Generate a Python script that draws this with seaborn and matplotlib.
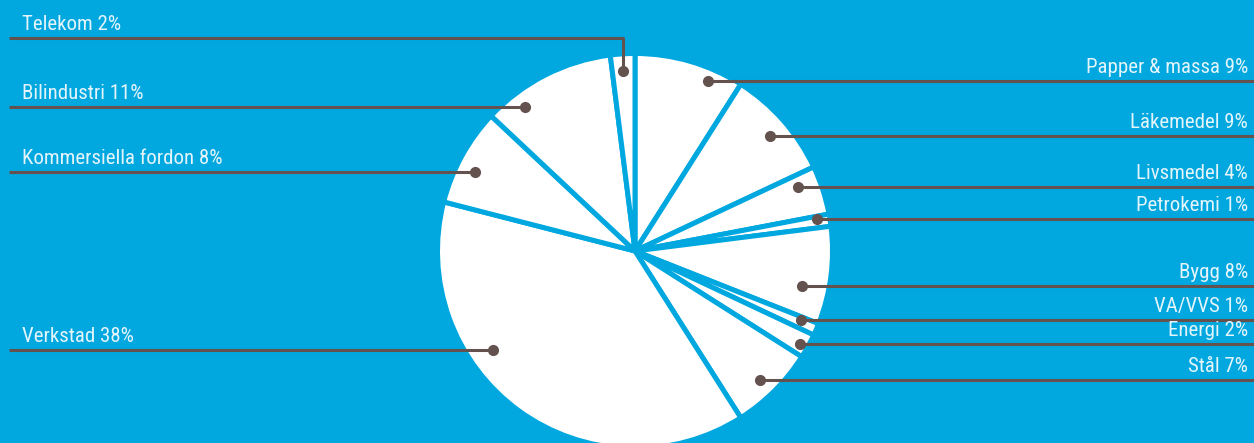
import numpy as np
import matplotlib
matplotlib.use("Agg")
import matplotlib.pyplot as plt
import seaborn as sns

# Industry shares (%), clockwise from twelve o'clock
sectors = ["Papper & massa", "Läkemedel", "Livsmedel", "Petrokemi", "Bygg",
           "VA/VVS", "Energi", "Stål", "Verkstad", "Kommersiella fordon",
           "Bilindustri", "Telekom"]
shares = [9, 9, 4, 1, 8, 1, 2, 7, 38, 8, 11, 2]

# Marker placement inside each wedge: fraction along the wedge (clockwise)
# and fraction of the radius
marker_frac = [0.72, 0.53, 0.27, 0.25, 0.66, 0.30, 0.58, 0.54, 0.64, 0.41, 0.24, 0.47]
marker_rad = [0.95, 0.91, 0.90, 0.95, 0.875, 0.92, 0.97, 0.92, 0.89, 0.915, 0.93, 0.925]
label_side = ["right"] * 8 + ["left"] * 4

BG = "#00A8DF"
LINE = "#64524f"
TEXT = "#e4f4fb"

sns.set_theme(style="white")
plt.rcParams["font.family"] = ["Roboto Condensed", "Liberation Sans Narrow",
                               "Roboto", "DejaVu Sans"]

W, H = 1254, 443
fig = plt.figure(figsize=(W / 100, H / 100), dpi=100, facecolor=BG)
ax = fig.add_axes([0, 0, 1, 1])
ax.set_facecolor(BG)

cx, cy, R = 635, 192, 195
edge_lw = 3.6
ax.pie(shares, center=(cx, cy), radius=R + 2.5, startangle=90,
       counterclock=False, colors=["white"] * len(shares),
       wedgeprops=dict(edgecolor=BG, linewidth=edge_lw), frame=True)

cum = np.concatenate([[0], np.cumsum(shares)])
fs = 15
for i, name in enumerate(sectors):
    a0 = 90 - 360 * cum[i] / 100
    a1 = 90 - 360 * cum[i + 1] / 100
    ang = np.deg2rad(a0 - marker_frac[i] * (a0 - a1))
    dx = cx + marker_rad[i] * R * np.cos(ang)
    dy = cy + marker_rad[i] * R * np.sin(ang)
    label = f"{name} {shares[i]}%"
    if label_side[i] == "right":
        ax.plot([dx, W], [dy, dy], color=LINE, lw=2.2, solid_capstyle="butt", zorder=3)
        ax.text(W - 6, dy + 8, label, ha="right", va="baseline",
                color=TEXT, fontsize=fs, zorder=4)
    else:
        ly = dy
        if name == "Telekom":
            ly = H - 38
            ax.plot([dx, dx], [dy, ly], color=LINE, lw=2.2, zorder=3)
        ax.plot([9, dx], [ly, ly], color=LINE, lw=2.2, solid_capstyle="butt", zorder=3)
        ax.text(22, ly + 8, label, ha="left", va="baseline",
                color=TEXT, fontsize=fs, zorder=4)
    ax.plot(dx, dy, "o", color=LINE, markersize=7, zorder=5)

ax.set_xlim(0, W)
ax.set_ylim(0, H)
ax.set_aspect("equal")
ax.axis("off")

fig.savefig("out.png", dpi=100, facecolor=BG)
